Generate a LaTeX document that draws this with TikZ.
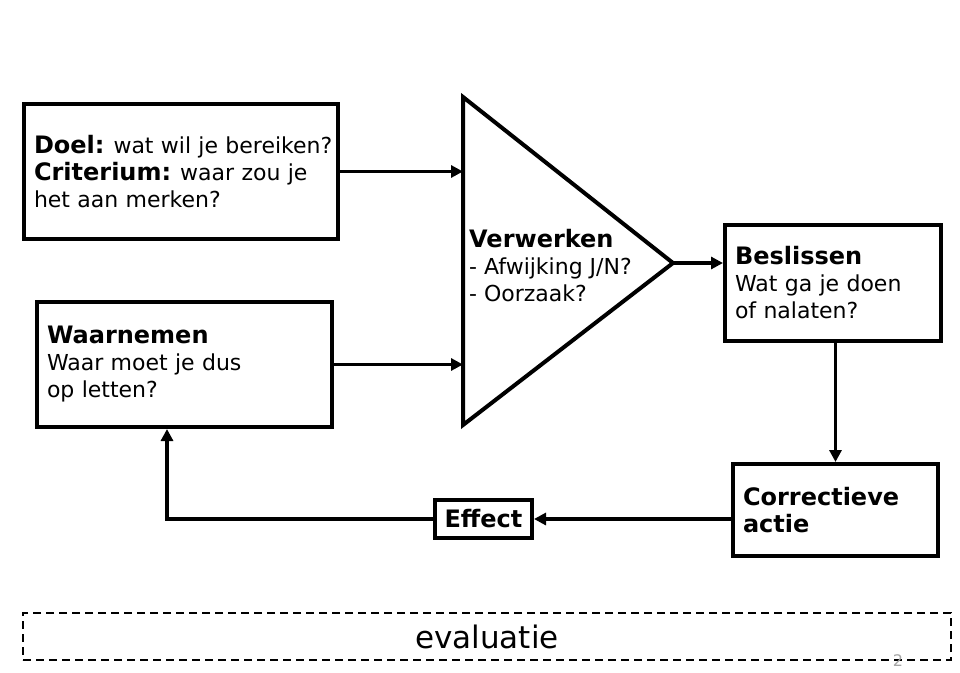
\documentclass[tikz,border=0pt]{standalone}
\usepackage{fontspec}
\setmainfont{DejaVu Sans}
\usetikzlibrary{arrows.meta}
\newcommand\hdr[1]{{\fontsize{24}{27}\selectfont\bfseries #1}}
\begin{document}
\begin{tikzpicture}[x=1pt,y=-1pt,
  box/.style={draw, line width=4pt, rectangle, inner xsep=10pt, inner ysep=0pt, align=left, font=\fontsize{22}{27}\selectfont},
  arr/.style={line width=3.5pt, -{Triangle[length=12pt,width=12pt]}},
  tri/.style={line width=4pt, line join=miter}]
\useasboundingbox (0,0) rectangle (960,672);
\fill[white] (0,0) rectangle (960,672);

% boxes
\node[box, minimum width=314pt, minimum height=135pt, text width=294pt] (doel) at (181,171.5)
  {\mbox{\hdr{Doel:}\hspace{-2pt} wat wil je bereiken?}\\ \mbox{\hdr{Criterium:}\hspace{-2pt} waar zou je}\\ het aan merken?};
\node[box, minimum width=295pt, minimum height=125pt, text width=275pt] (waar) at (184.5,364.5)
  {\hdr{Waarnemen}\\ Waar moet je dus\\ op letten?};
\node[box, minimum width=216pt, minimum height=116pt, text width=196pt] (besl) at (833,283)
  {\hdr{Beslissen}\\ Wat ga je doen\\ of nalaten?};
\node[box, minimum width=205pt, minimum height=92pt, text width=185pt] (corr) at (835.5,510)
  {\hdr{Correctieve}\\ \hdr{actie}};
\node[box, minimum width=97pt, minimum height=38pt, inner xsep=0pt] (effect) at (483.5,519)
  {\hdr{Effect}};

% triangle
\coordinate (tt) at (463,97);
\coordinate (tb) at (463,425);
\coordinate (apex) at (673,263);
\draw[tri] (tt) -- (apex) -- (tb) -- cycle;
\node[anchor=west, align=left, inner sep=0pt, font=\fontsize{22}{27}\selectfont] (verw) at (469,266)
  {\hdr{Verwerken}\\ - Afwijking J/N?\\ - Oorzaak?};

% connectors
\draw[arr] (doel.east) -- (doel.east -| tt);
\draw[arr] (waar.east) -- (waar.east -| tt);
\draw[arr] (apex) -- (apex -| besl.west);
\draw[arr] (corr.north |- besl.south) -- (corr.north);
\draw[arr] (corr.west |- effect.east) -- (effect.east);
\draw[arr] (effect.west) -| ([xshift=-17.5pt]waar.south);

% evaluation band
\node[draw, line width=2pt, dash pattern=on 8pt off 5pt, minimum width=928pt, minimum height=47pt,
  font=\fontsize{31}{36}\selectfont] (eval) at (487,636.5) {evaluatie};
\node[text=gray!70, font=\fontsize{16}{18}\selectfont, inner sep=0pt] (pnum) at (898,661) {2};
\end{tikzpicture}
\end{document}
